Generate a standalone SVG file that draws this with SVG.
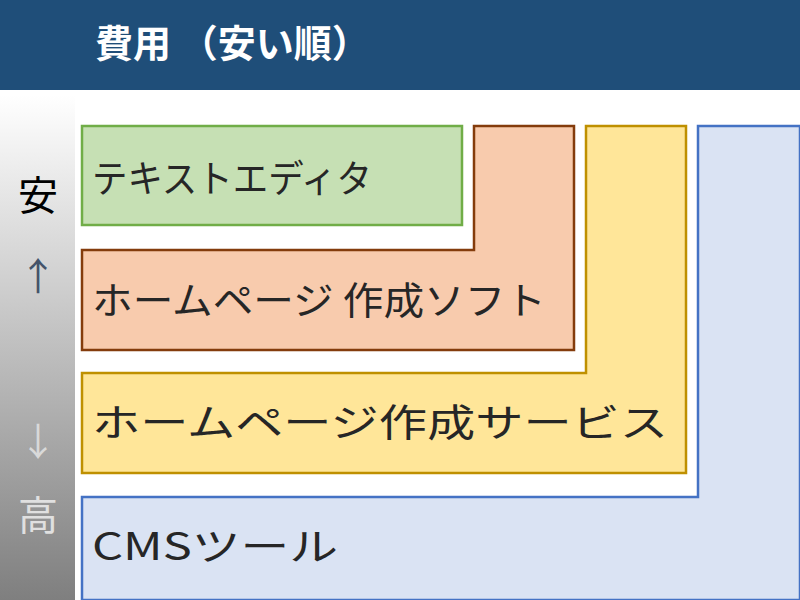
<svg xmlns="http://www.w3.org/2000/svg" width="800" height="600" viewBox="0 0 800 600">
<defs>
<linearGradient id="g" x1="0" y1="0" x2="0" y2="1"><stop offset="0" stop-color="#ffffff"/><stop offset="1" stop-color="#7f7f7f"/></linearGradient>
<style>
text{font-family:"Noto Sans CJK JP","Noto Sans",sans-serif}
.lbl{font-size:38px;fill:#262626}
.shape{stroke-width:2.5}
</style>
</defs>
<rect x="0" y="0" width="800" height="600" fill="#ffffff"/>
<g id="header"><rect x="0" y="0" width="800" height="90" fill="#1f4e79"/>
<text x="95" y="57" font-size="38" font-weight="bold" fill="#ffffff">費用 （安い順）</text></g>
<g id="scale"><rect x="0" y="95" width="75" height="505" fill="url(#g)"/>
<text x="38" y="210" font-size="40" text-anchor="middle" fill="#000">安</text>
<text x="38" y="290" font-size="38" text-anchor="middle" fill="#44546a">↑</text>
<text x="38" y="455" font-size="38" text-anchor="middle" fill="#d9d9d9">↓</text>
<text x="38" y="530" font-size="40" text-anchor="middle" fill="#e0e0e0">高</text></g>
<g id="cms"><path class="shape" d="M698,126H800V600H82V497H698Z" fill="#dae3f3" stroke="#4472c4"/>
<text class="lbl" x="92" y="560" textLength="246" lengthAdjust="spacingAndGlyphs">CMSツール</text></g>
<g id="service"><path class="shape" d="M586,126H686V473H82V373H586Z" fill="#ffe699" stroke="#bf9000"/>
<text class="lbl" x="92" y="436" textLength="576" lengthAdjust="spacingAndGlyphs">ホームページ作成サービス</text></g>
<g id="soft"><path class="shape" d="M474,126H574V350H82V250H474Z" fill="#f8cbad" stroke="#843c0c"/>
<text class="lbl" x="92" y="314" textLength="454" lengthAdjust="spacingAndGlyphs">ホームページ 作成ソフト</text></g>
<g id="editor"><rect class="shape" x="82" y="126" width="380" height="99" fill="#c6e0b4" stroke="#70ad47"/>
<text class="lbl" x="92" y="192" textLength="280" lengthAdjust="spacingAndGlyphs">テキストエディタ</text></g>
<g id="connectors"/>
</svg>
